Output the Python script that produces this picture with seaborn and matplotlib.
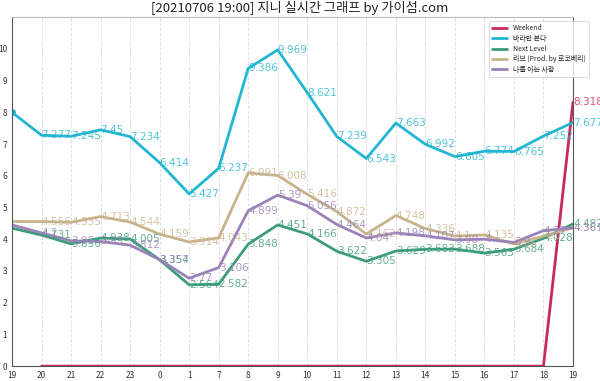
import matplotlib
matplotlib.use("Agg")
import matplotlib.pyplot as plt
import seaborn as sns
import pandas as pd
import numpy as np

hours = ["19", "20", "21", "22", "23", "0", "1", "7", "8", "9", "10",
         "11", "12", "13", "14", "15", "16", "17", "18", "19"]

weekend = [np.nan, 0, 0, 0, 0, 0, 0, 0, 0, 0, 0, 0, 0, 0, 0, 0, 0, 0, 0, 8.318]
baraman = [8.0, 7.277, 7.245, 7.45, 7.234, 6.414, 5.427, 6.237, 9.386, 9.969,
           8.621, 7.239, 6.543, 7.663, 6.992, 6.605, 6.774, 6.765, 7.252, 7.677]
next_level = [4.35, 4.131, 3.856, 4.038, 4.005, 3.354, 2.564, 2.582, 3.848, 4.451,
              4.166, 3.622, 3.305, 3.629, 3.683, 3.688, 3.563, 3.684, 4.028, 4.482]
live = [4.56, 4.556, 4.535, 4.713, 4.544, 4.159, 3.914, 4.043, 6.091, 6.008,
        5.416, 4.872, 4.162, 4.748, 4.336, 4.1, 4.135, 3.85, 4.1, 4.36]
naleul = [4.45, 4.2, 3.95, 3.93, 3.812, 3.357, 2.77, 3.106, 4.899, 5.39,
          5.056, 4.464, 4.04, 4.198, 4.107, 3.98, 4.0, 3.9, 4.27, 4.361]

names = ["Weekend", "바라만 본다", "Next Level", "리브 (Prod. by 로코베리)", "나를 아는 사람"]
series = [weekend, baraman, next_level, live, naleul]
colors = ["#c9285c", "#22b6d2", "#3d9c7a", "#c8b48c", "#9b82b8"]

rows = []
for n, s in zip(names, series):
    for i, v in enumerate(s):
        rows.append({"x": i, "value": v, "song": n})
df = pd.DataFrame(rows)

sns.set_theme(style="white")
plt.rcParams['font.family'] = ['Noto Sans CJK KR', 'DejaVu Sans']

fig = plt.figure(figsize=(6, 3.81), dpi=100)
ax = fig.add_axes([0.02, 0.039, 0.935, 0.916])

sns.lineplot(data=df, x="x", y="value", hue="song", hue_order=names,
             palette=dict(zip(names, colors)), linewidth=2.0, ax=ax,
             estimator=None, sort=False)

# start marker for cyan
ax.plot([0], [baraman[0]], 'o', color=colors[1], markersize=4)

for n, s, c in zip(names, series, colors):
    for i, v in enumerate(s):
        if i == 0 or np.isnan(v) or v == 0:
            continue
        ax.text(i, v, f"{v:g}", color=c, alpha=0.8, fontsize=7.5,
                ha="left", va="center", family=['DejaVu Sans'])

ax.set_xlim(0, 19)
ax.set_ylim(0, 11)
ax.set_xticks(range(len(hours)))
ax.set_xticklabels(hours)
ax.set_yticks(range(0, 11))
ax.tick_params(axis='both', labelsize=6, length=2, pad=1.5, colors="#333333")
ax.set_xlabel("")
ax.set_ylabel("")
for x in range(1, 19):
    ax.axvline(x, color="#dddddd", linestyle=(0, (3, 2)), linewidth=0.7, zorder=0)
for sp in ax.spines.values():
    sp.set_color("#555555")
    sp.set_linewidth(0.8)
ax.spines['top'].set_color("#bbbbbb")

leg = ax.legend(loc="upper right", fontsize=5, frameon=True, handlelength=2.2,
                borderpad=0.5, labelspacing=0.35, bbox_to_anchor=(1.035, 1.0))
leg.get_frame().set_edgecolor("#cccccc")
leg.get_frame().set_linewidth(0.6)
for line in leg.get_lines():
    line.set_linewidth(2)

fig.text(0.5, 0.978, "[20210706 19:00] 지니 실시간 그래프 by 가이섬.com",
         ha="center", va="center", fontsize=9.5, color="#222222")

fig.savefig("out.png", dpi=100)
